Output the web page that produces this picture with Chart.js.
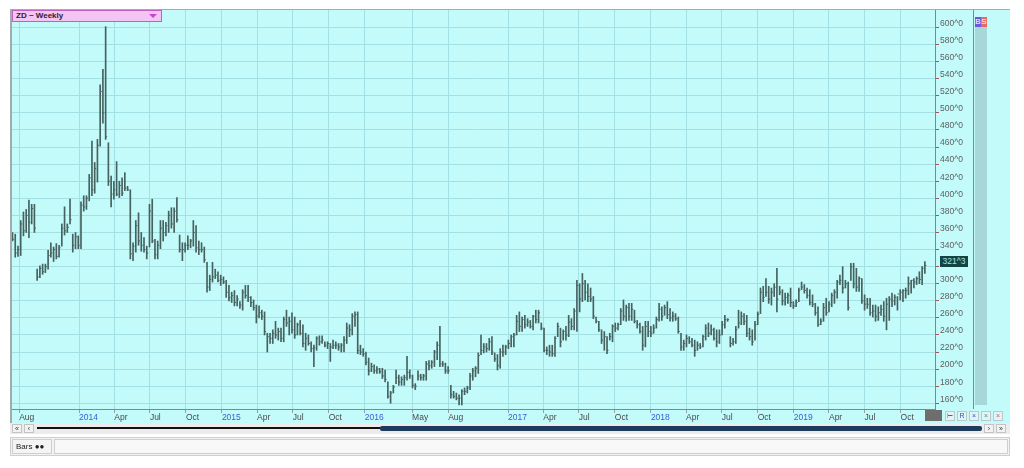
<!DOCTYPE html>
<html>
<head>
<meta charset="utf-8">
<script src="https://cdn.jsdelivr.net/npm/chart.js@4.4.1/dist/chart.umd.min.js"></script>
<style>
  html, body { margin: 0; padding: 0; background: #fff; }
  #wrap { position: relative; width: 1024px; height: 468px; overflow: hidden;
          font-family: "Liberation Sans", Arial, sans-serif; }
  #frame { position: absolute; left: 10px; top: 9px; width: 1000px; height: 414px;
           background: #c3fbfb; border-top: 1px solid #a3abab; border-left: 2px solid #a3abab;
           box-sizing: border-box; }
  #redline { position: absolute; left: 973px; top: 10px; width: 1px; height: 399px; background: #c86a6a; }
  #strip { position: absolute; left: 975px; top: 18px; width: 12px; height: 387px; background: #a6d8da; }
  #bs { position: absolute; left: 975px; top: 17px; height: 10px; font-size: 8px; line-height: 10px; color: #fff; }
  #bs span { display: inline-block; width: 6px; text-align: center; }
  #chart { position: absolute; left: 0; top: 0; }
  #title { position: absolute; left: 12px; top: 10px; width: 150px; height: 12px; box-sizing: border-box;
           background: #f4c4f4; border: 1px solid #c060c0; font-size: 8px; font-weight: bold;
           line-height: 10px; padding-left: 3px; color: #302030; }
  #title i { position: absolute; right: 4px; top: 3px; width: 0; height: 0;
             border-left: 4px solid transparent; border-right: 4px solid transparent; border-top: 4px solid #d040d0; }
  #price { position: absolute; left: 940px; width: 28px; height: 11px; background: #124444; color: #a8e4e4;
           font-size: 8.5px; line-height: 11px; text-align: center; }
  #endbox { position: absolute; left: 925px; top: 410px; width: 17px; height: 11px; background: #6e6e6e; }
  .btn { position: absolute; top: 411px; width: 10px; height: 10px; box-sizing: border-box; border: 1px solid #b8c8cc;
         background: #e4f4f6; font-size: 7px; line-height: 8px; text-align: center; }
  #scroll { position: absolute; left: 10px; top: 423px; width: 1000px; height: 11px; background: #ececec; }
  .sb { position: absolute; top: 424px; width: 10px; height: 9px; box-sizing: border-box; border: 1px solid #c4c4c4;
        background: #f2f2f2; font-size: 7px; line-height: 7px; text-align: center; color: #333; }
  #thin { position: absolute; left: 37px; top: 427px; width: 346px; height: 2px; background: #111; }
  #thumb { position: absolute; left: 380px; top: 426px; width: 602px; height: 5px; background: #1d3b5c; border-radius: 2px; }
  #status { position: absolute; left: 10px; top: 437px; width: 1000px; height: 19px; box-sizing: border-box;
            background: #f2f2f2; border: 1px solid #cfcfcf; }
  #bars { position: absolute; left: 12px; top: 439px; width: 40px; height: 15px; box-sizing: border-box;
          border: 1px solid #cfcfcf; background: #f4f4f4; font-size: 8px; line-height: 13px; padding-left: 3px; color: #222; }
  #field { position: absolute; left: 54px; top: 439px; width: 954px; height: 15px; box-sizing: border-box;
           border: 1px solid #cfcfcf; background: #f8f8f8; }
</style>
</head>
<body>
<div id="wrap">
  <div id="frame"></div>
  <div id="strip"></div>
  <div id="redline"></div>
  <div id="bs"><span style="background:#6a5ad8">B</span><span style="background:#e46a6a">S</span></div>
  <canvas id="chart" width="1024" height="468"></canvas>
  <div id="title">ZD ~ Weekly<i></i></div>
  <div id="price"></div>
  <div id="endbox"></div>
  <div class="btn" style="left:945px;color:#4466aa">&#8866;</div>
  <div class="btn" style="left:957px;color:#2255cc">R</div>
  <div class="btn" style="left:969px;color:#2255cc">&#215;</div>
  <div class="btn" style="left:981px;color:#22aa55">&#215;</div>
  <div class="btn" style="left:993px;color:#cc5566">&#215;</div>
  <div id="scroll"></div>
  <div class="sb" style="left:12px">&#171;</div>
  <div class="sb" style="left:24px">&#8249;</div>
  <div id="thin"></div>
  <div id="thumb"></div>
  <div class="sb" style="left:984px">&#8250;</div>
  <div class="sb" style="left:996px">&#187;</div>
  <div id="status"></div>
  <div id="bars">Bars &#9679;&#9679;</div>
  <div id="field"></div>
</div>
<script>
// ===== data (weekly bars, first week starts 2013-07-15) =====
const startDate = "2013-07-15";

const highs = [
  360,358,344,374,384,387,398,393,393,317, 321,323,323,339,348,343,347,345,370,390,
  370,399,358,360,356,396,403,403,428,467, 442,469,533,551,601,465,426,420,443,420,
  424,430,414,410,348,374,383,360,354,344, 393,399,352,350,374,374,372,385,389,389,
  401,357,348,348,356,352,374,368,350,348, 343,325,310,325,317,314,310,308,304,298,
  290,292,286,279,293,298,298,285,281,275, 274,269,267,242,242,246,256,248,248,261,
  269,261,266,261,254,257,252,242,240,232, 228,238,239,239,232,232,230,234,232,230,
  230,238,254,252,265,267,267,228,224,220, 213,207,205,203,201,201,199,185,174,181,
  199,193,191,193,215,199,193,183,198,194, 194,209,210,210,222,232,250,209,207,203,
  181,174,172,170,176,178,180,195,201,203, 219,240,230,230,236,238,219,217,224,228,
  228,234,240,242,263,267,261,263,259,257, 263,269,269,254,248,226,228,228,238,254,
  248,246,250,263,259,271,304,300,312,304, 300,295,285,261,256,246,244,238,242,252,
  254,254,271,281,275,277,277,269,257,254, 250,256,256,250,252,261,277,273,275,279,
  271,267,265,261,242,234,240,238,236,234, 232,230,240,252,254,252,248,246,246,256,
  263,259,238,236,250,269,267,265,263,248, 246,256,267,295,297,306,297,295,300,318,
  297,293,289,289,295,279,281,295,302,299, 295,293,287,277,273,259,277,283,279,289,
  293,304,310,320,304,302,324,324,318,308, 306,287,283,283,275,275,273,275,279,283,
  285,289,287,285,293,293,295,308,304,306, 308,314,320,326
];

const lows = [
  350,331,332,333,356,360,354,370,360,304, 307,311,313,317,331,326,329,331,344,357,
  360,370,337,341,341,341,385,387,397,403, 406,419,461,488,469,415,390,399,403,401,
  403,409,409,329,327,337,345,338,337,329, 343,348,329,329,341,350,356,360,365,360,
  372,337,327,337,340,342,344,337,334,337, 325,290,292,302,306,302,298,300,284,280,
  278,274,274,271,269,283,279,273,269,254, 260,258,240,220,230,230,236,234,232,232,
  250,240,242,236,240,240,226,222,228,220, 203,222,228,230,226,224,209,224,224,222,
  220,220,230,238,240,250,218,217,215,205, 193,197,195,195,195,189,185,166,160,172,
  183,181,181,181,187,189,178,176,187,187, 187,187,199,201,203,211,203,203,195,195,
  166,166,164,158,158,170,172,176,187,191, 195,217,219,220,222,217,209,199,201,215,
  217,224,226,226,240,244,244,248,250,248, 246,254,254,246,220,217,215,215,215,238,
  226,234,234,238,246,246,244,267,279,281, 279,279,259,254,244,230,222,218,234,232,
  244,246,252,257,256,257,257,254,248,242, 222,226,238,238,242,248,256,257,263,259,
  256,256,257,242,222,222,226,230,226,215, 222,224,226,234,238,240,234,226,230,240,
  248,256,226,228,230,248,252,252,238,234, 228,234,252,265,279,285,277,275,285,267,
  287,275,275,277,273,271,273,279,293,289, 283,275,273,263,250,252,256,263,267,273,
  277,283,299,289,295,269,304,295,291,291, 277,269,271,263,261,256,257,263,256,246,
  257,273,275,269,281,279,283,287,289,295, 299,300,299,312
];

const closes = [
  352,336,340,370,362,380,372,388,365,308, 318,314,320,333,336,340,332,342,365,362,
  366,375,345,355,345,392,390,400,424,410, 435,462,525,500,472,420,405,410,405,415,
  406,412,410,335,344,368,350,345,340,336, 385,350,334,345,365,360,368,380,370,385,
  375,340,340,345,345,350,360,342,340,340, 328,296,305,308,310,304,305,302,290,284,
  286,278,282,275,290,286,284,278,272,262, 266,262,244,238,236,242,240,244,236,258,
  254,256,246,240,252,242,230,236,230,224, 225,236,232,234,228,230,226,228,228,226,
  228,234,248,246,262,264,222,220,218,208, 198,203,198,200,197,192,188,168,172,179,
  190,185,188,190,196,192,181,180,192,190, 192,206,204,208,220,228,206,206,198,198,
  170,168,166,166,174,174,178,192,198,201, 216,222,226,224,232,220,212,204,220,220,
  226,230,238,240,256,250,258,252,255,250, 262,258,266,248,222,222,220,218,236,250,
  232,244,240,255,250,268,298,282,300,290, 285,282,262,256,246,234,238,222,238,250,
  248,252,268,262,272,262,270,256,252,244, 228,250,244,242,248,258,270,262,272,264,
  260,262,259,244,226,230,236,232,228,222, 228,226,238,248,242,246,236,232,240,252,
  258,258,230,232,246,254,262,256,242,238, 232,252,264,290,284,290,282,290,296,282,
  290,280,284,286,278,274,278,292,296,292, 286,278,276,266,252,256,272,266,276,286,
  290,302,304,295,300,272,320,300,296,306, 280,276,276,266,268,262,266,270,262,276,
  282,280,284,288,290,292,292,300,304,302, 306,305,318,321.375
];

const tickLabels = ["Aug", "2014", "Apr", "Jul", "Oct", "2015", "Apr", "Jul", "Oct",
  "2016", "May", "Aug", "2017", "Apr", "Jul", "Oct", "2018", "Apr", "Jul", "Oct",
  "2019", "Apr", "Jul", "Oct"];
const tickDates = ["2013-08-01", "2014-01-01", "2014-04-01", "2014-07-01", "2014-10-01",
  "2015-01-01", "2015-04-01", "2015-07-01", "2015-10-01", "2016-01-01", "2016-05-01",
  "2016-08-01", "2017-01-01", "2017-04-01", "2017-07-01", "2017-10-01", "2018-01-01",
  "2018-04-01", "2018-07-01", "2018-10-01", "2019-01-01", "2019-04-01", "2019-07-01",
  "2019-10-01"];

const yTicks = [160, 180, 200, 220, 240, 260, 280, 300, 320, 340, 360, 380, 400,
  420, 440, 460, 480, 500, 520, 540, 560, 580, 600];

// ===== helpers =====
const barColor = "#46625f";
const gridColor = "#a2e0e4";
const axisRed = "#c86a6a";

function weekIndex(d) {
  return (Date.parse(d + "T00:00:00Z") - Date.parse(startDate + "T00:00:00Z")) / (7 * 864e5);
}

// price in eighths, like 321^3
function fmt(v) {
  let whole = Math.floor(v);
  return whole + "^" + Math.round((v - whole) * 8);
}

// close tick on the right side of every bar
const closeTicks = {
  id: "closeTicks",
  afterDatasetsDraw(chart) {
    const { ctx, scales: { x, y }, chartArea } = chart;
    ctx.save();
    ctx.beginPath();
    ctx.rect(chartArea.left, chartArea.top, chartArea.right - chartArea.left, chartArea.bottom - chartArea.top);
    ctx.clip();
    ctx.fillStyle = barColor;
    closes.forEach((c, i) => {
      ctx.fillRect(x.getPixelForValue(i), y.getPixelForValue(c) - 0.5, 1.5, 1);
    });
    ctx.restore();
  },
  afterRender(chart) {
    // last price box on the axis
    let last = closes[closes.length - 1];
    let box = document.getElementById("price");
    box.style.top = (chart.scales.y.getPixelForValue(last) - 9) + "px";
    box.innerText = fmt(last);
  }
};

const tickFont = { family: "Liberation Sans", size: 8.5 };

new Chart(document.getElementById("chart"), {
  type: "bar",
  data: {
    datasets: [{
      data: highs.map((h, i) => ({ x: i, y: [lows[i], h] })),
      backgroundColor: barColor,
      borderWidth: 0,
      barThickness: 1,
      grouped: false
    }]
  },
  options: {
    responsive: false,
    animation: false,
    layout: { padding: { left: 12, top: 10, right: 49, bottom: 45 } },
    plugins: { legend: { display: false }, tooltip: { enabled: false } },
    scales: {
      x: {
        type: "linear",
        offset: false,
        min: -0.18,
        max: 336.7,
        afterBuildTicks: s => { s.ticks = tickDates.map(d => ({ value: weekIndex(d) })); },
        afterFit: s => { s.height = 14; },
        grid: { offset: false, color: gridColor, tickLength: 4, tickColor: "#8fa3a3" },
        border: { color: axisRed },
        ticks: {
          autoSkip: false,
          maxRotation: 0,
          align: "start",
          padding: 0,
          font: tickFont,
          color: c => /^\d{4}$/.test(tickLabels[c.index]) ? "#3a5fcf" : "#4a4a4a",
          callback: (v, i) => tickLabels[i]
        }
      },
      y: {
        position: "right",
        min: 153.3,
        max: 620.5,
        afterBuildTicks: s => { s.ticks = yTicks.map(v => ({ value: v })); },
        afterFit: s => { s.width = 40; },
        grid: { color: gridColor, tickLength: 4, tickColor: "#a05a5a" },
        border: { color: axisRed },
        ticks: {
          font: tickFont,
          color: "#5e5e5e",
          padding: 1,
          labelOffset: -4,
          callback: v => fmt(v)
        }
      }
    }
  },
  plugins: [closeTicks]
});
</script>
</body>
</html>
